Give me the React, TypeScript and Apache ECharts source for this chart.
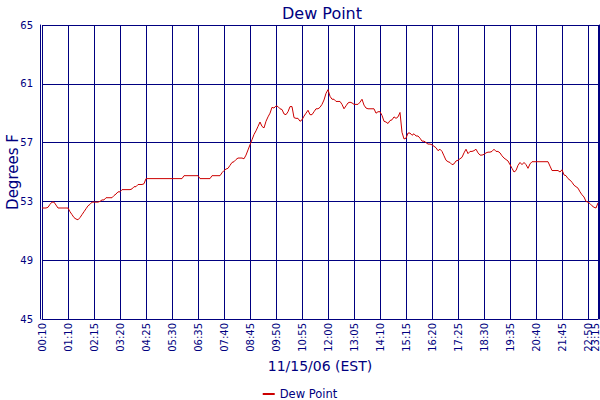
import React, { useEffect, useRef } from 'react';
import * as echarts from 'echarts';

// Dew point readings, 11/15/06 (EST), one every 5 minutes (plus the :53 hourly report)
const firstHour = ['00:10', '00:15', '00:20', '00:25', '00:30', '00:35', '00:40', '00:45', '00:50', '00:53', '00:55', '01:00', '01:05'];

const pad = (n: number) => (n < 10 ? '0' + n : '' + n);
const laterTimes: string[] = [];
for (let m = 70; m <= 23 * 60 + 15; m += 5) {
  laterTimes.push(pad(Math.floor(m / 60)) + ':' + pad(m % 60));
}
const times = [...firstHour, ...laterTimes];

const dewPoint = [
  52.55, 52.55, 52.55, 52.6, 52.8, 52.95, 52.95, 52.75, 52.55, 52.55,
  52.55, 52.55, 52.55, 52.55, 52.3, 52.1, 51.9, 51.8, 51.75, 51.9,
  52.1, 52.3, 52.5, 52.7, 52.8, 52.95, 52.95, 52.95, 52.95, 53.0,
  53.1, 53.1, 53.25, 53.25, 53.25, 53.25, 53.4, 53.5, 53.65, 53.65,
  53.8, 53.8, 53.8, 53.8, 53.8, 53.85, 54.0, 54.0, 54.15, 54.15,
  54.15, 54.2, 54.55, 54.55, 54.55, 54.55, 54.55, 54.55, 54.55, 54.55,
  54.55, 54.55, 54.55, 54.55, 54.55, 54.55, 54.55, 54.55, 54.55, 54.55,
  54.55, 54.75, 54.75, 54.75, 54.75, 54.75, 54.75, 54.75, 54.75, 54.55,
  54.55, 54.55, 54.55, 54.55, 54.55, 54.75, 54.75, 54.75, 54.75, 54.75,
  54.95, 55.1, 55.2, 55.25, 55.45, 55.65, 55.7, 55.85, 55.95, 55.95,
  55.95, 55.9, 56.15, 56.5, 56.85, 57.2, 57.55, 57.8, 58.1, 58.4,
  58.1, 58.0, 58.45, 58.75, 59.0, 59.4, 59.35, 59.5, 59.45, 59.3,
  59.25, 58.95, 58.9, 59.1, 59.45, 59.45, 58.7, 58.65, 58.65, 58.45,
  58.55, 58.8, 59.0, 59.2, 58.9, 58.9, 59.1, 59.3, 59.3, 59.4,
  59.6, 59.9, 60.35, 60.6, 60.15, 59.95, 59.95, 59.8, 59.8, 59.8,
  59.6, 59.3, 59.5, 59.7, 59.75, 59.7, 59.6, 59.6, 59.6, 59.75,
  59.95, 59.55, 59.35, 59.3, 59.3, 59.3, 59.3, 59.0, 59.1, 59.1,
  58.85, 58.45, 58.4, 58.3, 58.5, 58.55, 58.75, 58.65, 58.75, 59.05,
  57.7, 57.25, 57.3, 57.65, 57.65, 57.5, 57.6, 57.45, 57.45, 57.3,
  57.1, 57.1, 57.0, 56.9, 56.9, 56.85, 56.75, 56.65, 56.45, 56.55,
  56.4, 56.1, 55.8, 55.7, 55.65, 55.5, 55.55, 55.75, 55.8, 55.9,
  56.0, 56.3, 56.55, 56.25, 56.4, 56.4, 56.45, 56.55, 56.3, 56.15,
  56.15, 56.2, 56.3, 56.35, 56.35, 56.4, 56.55, 56.4, 56.4, 56.3,
  56.1, 55.95, 55.85, 55.75, 55.5, 55.25, 55.0, 55.1, 55.45, 55.65,
  55.5, 55.65, 55.5, 55.25, 55.55, 55.7, 55.7, 55.7, 55.7, 55.7,
  55.7, 55.7, 55.7, 55.7, 55.4, 55.1, 55.1, 55.1, 55.1, 55.0,
  55.15, 54.8, 54.75, 54.55, 54.45, 54.3, 54.1, 54.0, 53.9, 53.65,
  53.45, 53.3, 53.0, 52.95, 52.85, 52.7, 52.6, 52.55, 52.9
];

const yMin = 45;
const yMax = 65;
const yStep = 4;

const NAVY = '#000080';
const FONT = 'DejaVu Sans';

// a label (and grid line) every 13th reading, plus the last one
const showTick = (index: number) => index % 13 === 0 || index === times.length - 1;

export default function App() {
  const chartRef = useRef<HTMLDivElement>(null);

  useEffect(() => {
    if (!chartRef.current) return;

    const chart = echarts.init(chartRef.current, undefined, { renderer: 'svg' });

    const option: echarts.EChartsOption = {
      animation: false,
      title: {
        text: 'Dew Point',
        left: 317,
        top: 0,
        textAlign: 'center',
        textStyle: { color: NAVY, fontFamily: FONT, fontSize: 16, fontWeight: 'normal' }
      },
      legend: {
        data: ['Dew Point'],
        left: 'center',
        top: 383,
        icon: 'rect',
        itemWidth: 12,
        itemHeight: 2,
        itemGap: 5,
        textStyle: { color: NAVY, fontFamily: FONT, fontSize: 11.5 }
      },
      grid: {
        left: 42,
        right: 2,
        top: 25,
        bottom: 81,
        containLabel: false,
        outerBoundsMode: 'none'
      } as any,
      xAxis: {
        type: 'category',
        data: times,
        boundaryGap: false,
        name: '11/15/06 (EST)',
        nameLocation: 'middle',
        nameGap: 40,
        nameMoveOverlap: false,
        nameTextStyle: { color: NAVY, fontFamily: FONT, fontSize: 14 },
        axisLine: { show: true, onZero: false, lineStyle: { color: NAVY, width: 1 } },
        axisTick: { show: false },
        axisLabel: {
          interval: 0,
          formatter: (value: string, index: number) => {
            if (!showTick(index)) return '';
            return index === times.length - 1 ? '{last|' + value + '}' : value;
          },
          rich: {
            last: { padding: [0, 0, 5, 0], color: NAVY, fontFamily: FONT, fontSize: 10 }
          },
          rotate: 90,
          margin: 4,
          color: NAVY,
          fontFamily: FONT,
          fontSize: 10,
          hideOverlap: false
        },
        splitLine: {
          show: true,
          interval: (index: number) => showTick(index),
          lineStyle: { color: NAVY, width: 1 }
        }
      } as any,
      yAxis: [
        {
          type: 'value',
          min: yMin,
          max: yMax,
          interval: yStep,
          offset: 2,
          name: 'Degrees F',
          nameLocation: 'middle',
          nameGap: 20,
          nameMoveOverlap: false,
          nameTextStyle: { color: NAVY, fontFamily: FONT, fontSize: 15 },
          axisLine: { show: true, lineStyle: { color: NAVY, width: 1 } },
          axisTick: { show: false },
          axisLabel: { margin: 7, color: NAVY, fontFamily: FONT, fontSize: 10 },
          splitLine: { show: true, lineStyle: { color: NAVY, width: 1 } }
        } as any,
        {
          type: 'value',
          position: 'right',
          min: yMin,
          max: yMax,
          interval: yStep,
          offset: 1,
          axisLine: { show: true, lineStyle: { color: NAVY, width: 1 } },
          axisTick: { show: false },
          axisLabel: { show: false },
          splitLine: { show: false }
        }
      ],
      series: [
        {
          name: 'Dew Point',
          type: 'line',
          data: dewPoint,
          showSymbol: false,
          lineStyle: { color: '#cc0000', width: 1 },
          itemStyle: { color: '#cc0000' }
        }
      ]
    };

    chart.setOption(option);

    return () => {
      chart.dispose();
    };
  }, []);

  return <div ref={chartRef} style={{ position: 'absolute', left: 0, top: 0, width: 600, height: 400 }} />;
}
